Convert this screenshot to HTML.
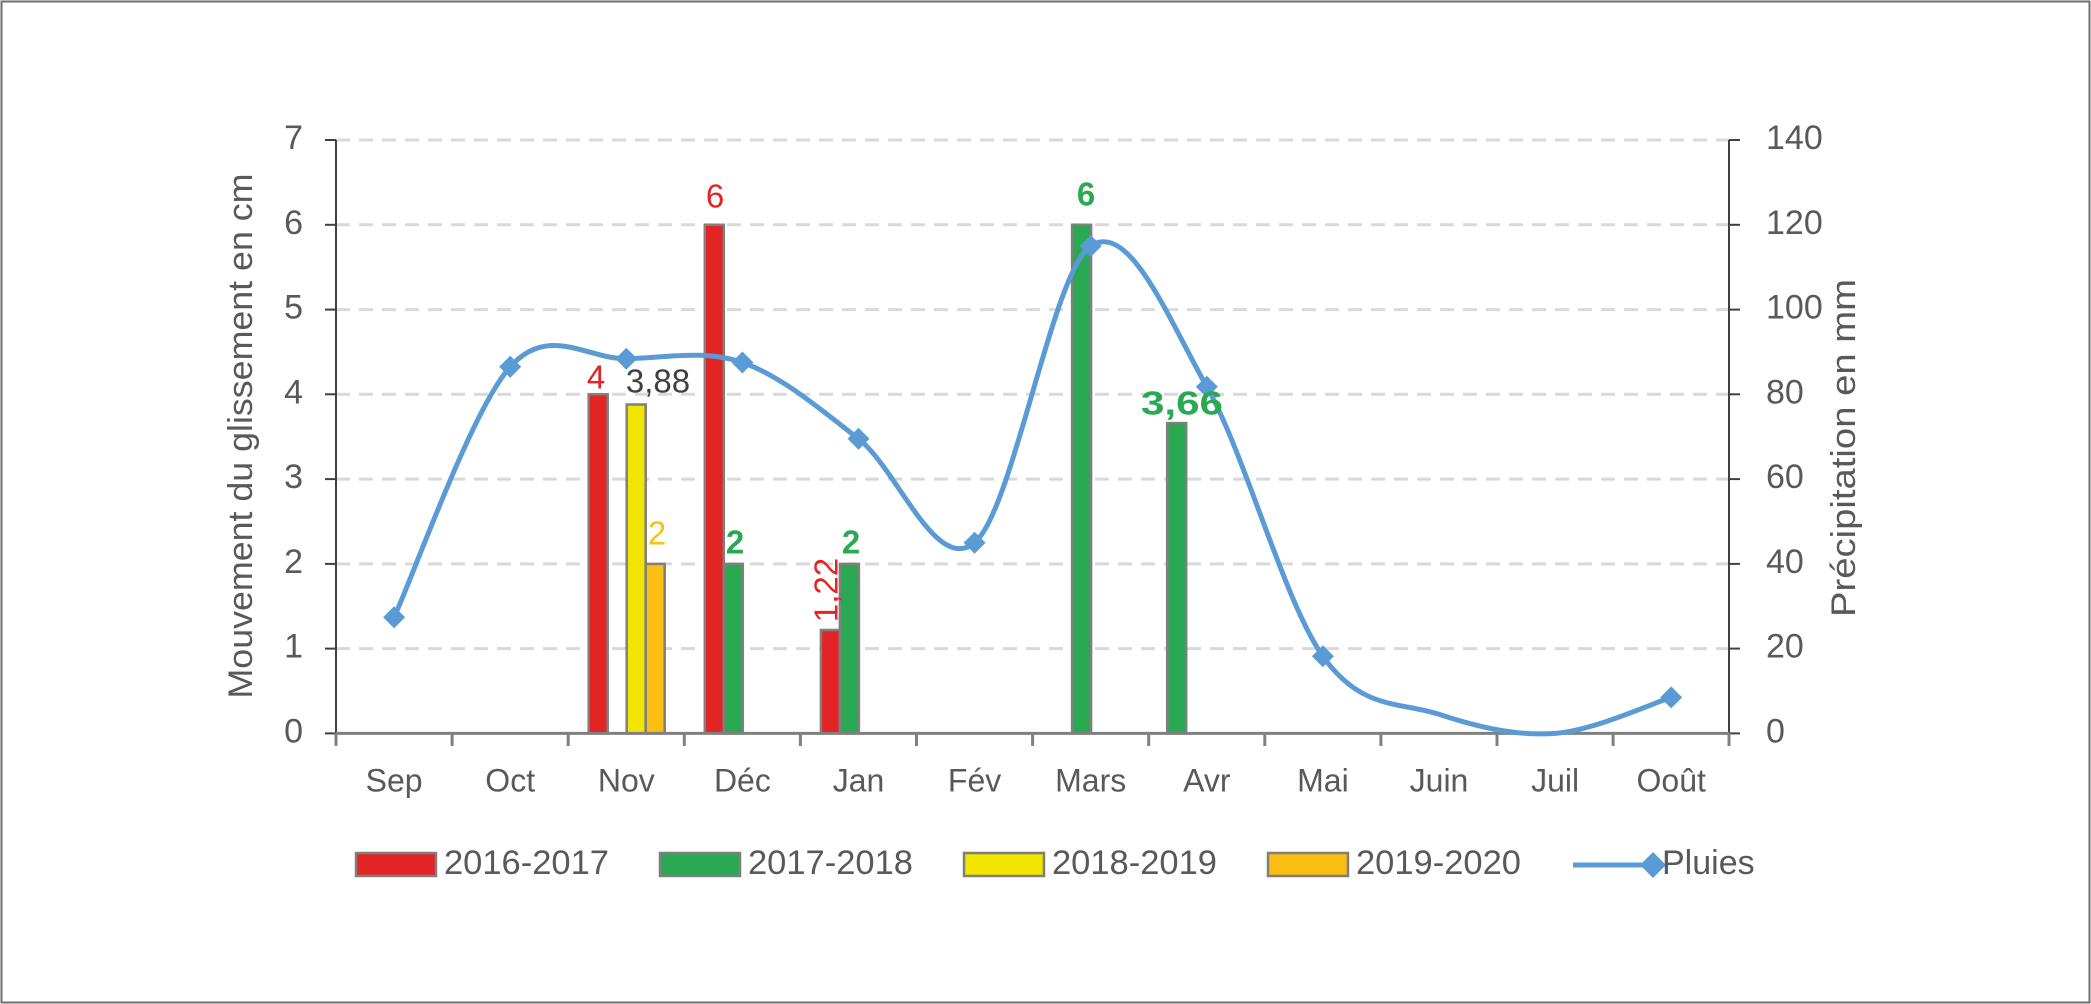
<!DOCTYPE html>
<html><head><meta charset="utf-8"><style>
html,body{margin:0;padding:0;background:#fff}
svg{display:block}
text{font-family:"Liberation Sans",sans-serif;fill:#595959}
</style></head><body>
<svg width="2091" height="1004" viewBox="0 0 2091 1004" xmlns="http://www.w3.org/2000/svg">
<rect x="1.5" y="1.5" width="2088" height="1001" fill="#fff" stroke="#6e6e6e" stroke-width="2"/>
<g stroke="#d9d9d9" stroke-width="3" stroke-dasharray="14,9">
<line x1="336" y1="140" x2="1729" y2="140"/>
<line x1="336" y1="224.8" x2="1729" y2="224.8"/>
<line x1="336" y1="309.6" x2="1729" y2="309.6"/>
<line x1="336" y1="394.3" x2="1729" y2="394.3"/>
<line x1="336" y1="479.1" x2="1729" y2="479.1"/>
<line x1="336" y1="563.9" x2="1729" y2="563.9"/>
<line x1="336" y1="648.6" x2="1729" y2="648.6"/>
</g>
<g stroke="#7f7f7f" stroke-width="2.5">
<rect x="588.7" y="394.3" width="19" height="339.1" fill="#e32424"/>
<rect x="626.7" y="404.5" width="19" height="328.9" fill="#f2e500"/>
<rect x="645.7" y="563.9" width="19" height="169.5" fill="#fbbe12"/>
<rect x="704.8" y="224.8" width="19" height="508.6" fill="#e32424"/>
<rect x="723.8" y="563.9" width="19" height="169.5" fill="#2aa952"/>
<rect x="820.9" y="630.0" width="19" height="103.4" fill="#e32424"/>
<rect x="839.9" y="563.9" width="19" height="169.5" fill="#2aa952"/>
<rect x="1072.1" y="224.8" width="19" height="508.6" fill="#2aa952"/>
<rect x="1167.2" y="423.1" width="19" height="310.3" fill="#2aa952"/>
</g>
<g stroke="#404040" stroke-width="2">
<line x1="336" y1="140" x2="336" y2="733.4"/>
<line x1="1729" y1="140" x2="1729" y2="733.4"/>
<line x1="325" y1="140" x2="336" y2="140"/><line x1="325" y1="224.8" x2="336" y2="224.8"/><line x1="325" y1="309.6" x2="336" y2="309.6"/><line x1="325" y1="394.3" x2="336" y2="394.3"/><line x1="325" y1="479.1" x2="336" y2="479.1"/><line x1="325" y1="563.9" x2="336" y2="563.9"/><line x1="325" y1="648.6" x2="336" y2="648.6"/><line x1="325" y1="733.4" x2="336" y2="733.4"/>
<line x1="1729" y1="140" x2="1740" y2="140"/><line x1="1729" y1="224.8" x2="1740" y2="224.8"/><line x1="1729" y1="309.6" x2="1740" y2="309.6"/><line x1="1729" y1="394.3" x2="1740" y2="394.3"/><line x1="1729" y1="479.1" x2="1740" y2="479.1"/><line x1="1729" y1="563.9" x2="1740" y2="563.9"/><line x1="1729" y1="648.6" x2="1740" y2="648.6"/><line x1="1729" y1="733.4" x2="1740" y2="733.4"/>
</g>
<g stroke="#808080" stroke-width="3">
<line x1="336" y1="733.4" x2="1729" y2="733.4"/>
<line x1="336" y1="733" x2="336" y2="746"/><line x1="452.1" y1="733" x2="452.1" y2="746"/><line x1="568.2" y1="733" x2="568.2" y2="746"/><line x1="684.3" y1="733" x2="684.3" y2="746"/><line x1="800.4" y1="733" x2="800.4" y2="746"/><line x1="916.5" y1="733" x2="916.5" y2="746"/><line x1="1032.6" y1="733" x2="1032.6" y2="746"/><line x1="1148.7" y1="733" x2="1148.7" y2="746"/><line x1="1264.8" y1="733" x2="1264.8" y2="746"/><line x1="1380.9" y1="733" x2="1380.9" y2="746"/><line x1="1497" y1="733" x2="1497" y2="746"/><line x1="1613.1" y1="733" x2="1613.1" y2="746"/><line x1="1729" y1="733" x2="1729" y2="746"/>
</g>
<path d="M394.1,617.3 C413.5,575.6 471.5,409.9 510.2,366.8 C548.9,323.7 587.6,359.4 626.3,358.7 C665,358.0 703.7,349.2 742.4,362.5 C781.1,375.9 819.8,408.8 858.5,438.8 C897.2,468.8 935.9,574.8 974.6,542.7 C1013.3,510.6 1052,272 1090.7,246.0 C1129.4,220 1168.1,318.3 1206.8,386.7 C1245.5,455.1 1284.2,601.7 1322.9,656.3 C1361.6,710.9 1400.3,701.5 1439,714.3 C1477.7,727.2 1516.4,736.2 1555.1,733.4 C1593.8,730.6 1651.9,703.4 1671.2,697.4" fill="none" stroke="#5b9bd5" stroke-width="5"/>
<g fill="#5b9bd5">
<polygon points="394.1,606.3 405.1,617.3 394.1,628.3 383.1,617.3"/>
<polygon points="510.2,355.8 521.2,366.8 510.2,377.8 499.2,366.8"/>
<polygon points="626.3,347.7 637.3,358.7 626.3,369.7 615.3,358.7"/>
<polygon points="742.4,351.5 753.4,362.5 742.4,373.5 731.4,362.5"/>
<polygon points="858.5,427.8 869.5,438.8 858.5,449.8 847.5,438.8"/>
<polygon points="974.6,531.7 985.6,542.7 974.6,553.7 963.6,542.7"/>
<polygon points="1090.7,235 1101.7,246 1090.7,257 1079.7,246"/>
<polygon points="1206.8,375.7 1217.8,386.7 1206.8,397.7 1195.8,386.7"/>
<polygon points="1322.9,645.3 1333.9,656.3 1322.9,667.3 1311.9,656.3"/>
<polygon points="1671.2,686.4 1682.2,697.4 1671.2,708.4 1660.2,697.4"/>
</g>
<g font-size="34" text-anchor="end" dominant-baseline="middle">
<text x="303" y="140">7</text><text x="303" y="224.8">6</text><text x="303" y="309.6">5</text><text x="303" y="394.3">4</text><text x="303" y="479.1">3</text><text x="303" y="563.9">2</text><text x="303" y="648.6">1</text><text x="303" y="733.4">0</text>
</g>
<g font-size="34" text-anchor="start" dominant-baseline="middle">
<text x="1766" y="140">140</text><text x="1766" y="224.8">120</text><text x="1766" y="309.6">100</text><text x="1766" y="394.3">80</text><text x="1766" y="479.1">60</text><text x="1766" y="563.9">40</text><text x="1766" y="648.6">20</text><text x="1766" y="733.4">0</text>
</g>
<g font-size="32" text-anchor="middle" dominant-baseline="middle">
<text x="394.1" y="783">Sep</text><text x="510.2" y="783">Oct</text><text x="626.3" y="783">Nov</text><text x="742.4" y="783">Déc</text><text x="858.5" y="783">Jan</text><text x="974.6" y="783">Fév</text><text x="1090.7" y="783">Mars</text><text x="1206.8" y="783">Avr</text><text x="1322.9" y="783">Mai</text><text x="1439" y="783">Juin</text><text x="1555.1" y="783">Juil</text><text x="1671.2" y="783">Ooût</text>
</g>
<text x="243" y="436" font-size="34" text-anchor="middle" dominant-baseline="middle" textLength="525" lengthAdjust="spacingAndGlyphs" transform="rotate(-90 243 436)">Mouvement du glissement en cm</text>
<text x="1846" y="448" font-size="34" text-anchor="middle" dominant-baseline="middle" textLength="338" lengthAdjust="spacingAndGlyphs" transform="rotate(-90 1846 448)">Précipitation en mm</text>
<g font-size="33" text-anchor="middle" dominant-baseline="middle">
<text x="596" y="380" style="fill:#e32424">4</text>
<text x="658" y="384" style="fill:#404040">3,88</text>
<text x="657" y="536" style="fill:#fbbe12">2</text>
<text x="715" y="199" style="fill:#e32424">6</text>
<text x="735" y="545" style="fill:#2aa952;font-weight:bold">2</text>
<text x="851" y="545" style="fill:#2aa952;font-weight:bold">2</text>
<text x="1086" y="197" style="fill:#2aa952;font-weight:bold">6</text>
<text x="1182" y="406" style="fill:#2aa952;font-weight:bold" textLength="82" lengthAdjust="spacingAndGlyphs">3,66</text>
<text x="829" y="590" style="fill:#e32424" transform="rotate(-90 829 590)">1,22</text>
</g>
<g stroke="#7f7f7f" stroke-width="2.5">
<rect x="356" y="853" width="80" height="23" fill="#e32424"/>
<rect x="660" y="853" width="80" height="23" fill="#2aa952"/>
<rect x="964" y="853" width="80" height="23" fill="#f2e500"/>
<rect x="1268" y="853" width="80" height="23" fill="#fbbe12"/>
</g>
<line x1="1573" y1="865" x2="1653" y2="865" stroke="#5b9bd5" stroke-width="5"/>
<polygon points="1653,852 1666,865 1653,878 1640,865" fill="#5b9bd5"/>
<g font-size="34" dominant-baseline="middle">
<text x="444" y="865" textLength="165" lengthAdjust="spacingAndGlyphs">2016-2017</text>
<text x="748" y="865" textLength="165" lengthAdjust="spacingAndGlyphs">2017-2018</text>
<text x="1052" y="865" textLength="165" lengthAdjust="spacingAndGlyphs">2018-2019</text>
<text x="1356" y="865" textLength="165" lengthAdjust="spacingAndGlyphs">2019-2020</text>
<text x="1662" y="865">Pluies</text>
</g>
</svg>
</body></html>
